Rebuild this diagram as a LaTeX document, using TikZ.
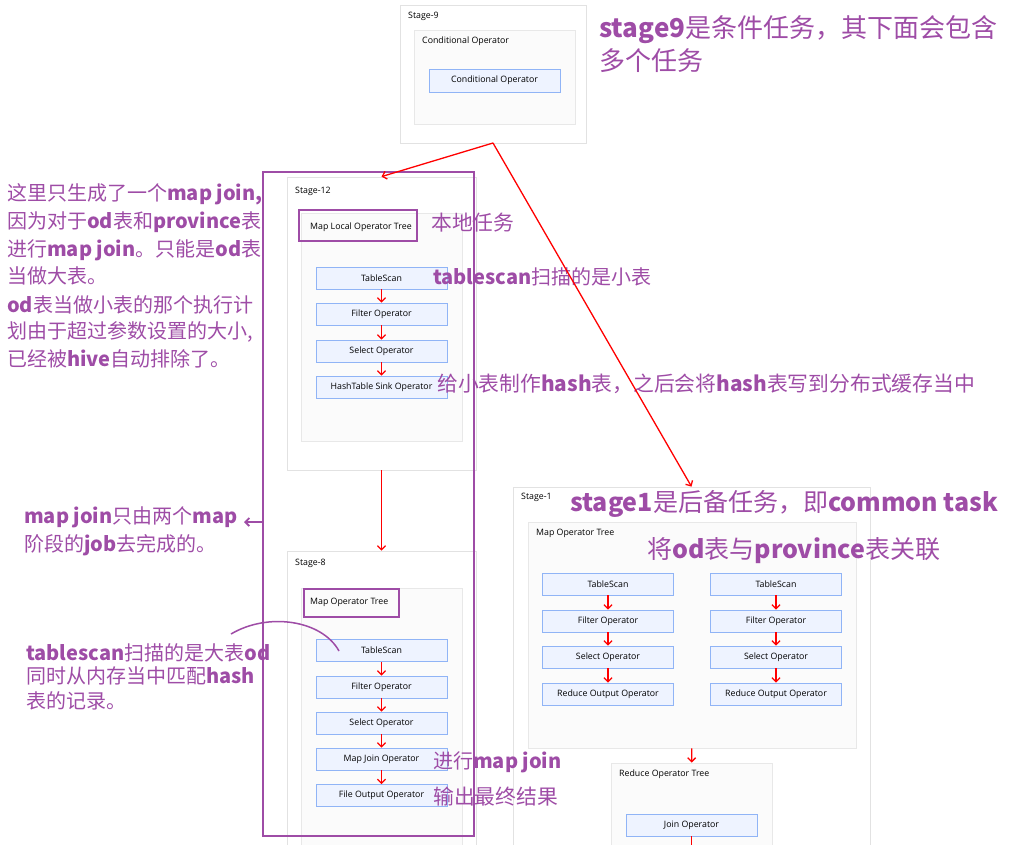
\documentclass[tikz,border=0pt]{standalone}
\usepackage{fontspec}
\setmainfont{Noto Sans CJK SC}
\newfontfamily\uifont{Open Sans}
\usetikzlibrary{arrows.meta}
\definecolor{pur}{RGB}{158,76,166}
\definecolor{stb}{RGB}{226,226,226}
\definecolor{inb}{RGB}{232,232,232}
\definecolor{inf}{RGB}{251,251,251}
\definecolor{opb}{RGB}{144,180,246}
\definecolor{opf}{RGB}{238,243,255}
\newcommand\en[1]{{\bfseries #1}}
\tikzset{
  stagebox/.style={draw=stb, fill=white, line width=0.8pt, inner sep=0},
  treebox/.style={draw=inb, fill=inf, line width=0.8pt, inner sep=0},
  op/.style={draw=opb, fill=opf, line width=0.8pt, minimum width=131, minimum height=22, inner sep=0, font=\uifont\fontsize{8.8}{10}\selectfont},
  lab/.style={font=\uifont\fontsize{8.8}{10}\selectfont, anchor=west, inner sep=0},
  ann/.style={font=\fontsize{20}{24}\selectfont, text=pur, inner sep=0, anchor=base west},
  annw/.style={font=\fontsize{20.8}{24}\selectfont, text=pur, inner sep=0, anchor=base west},
  bigann/.style={font=\fontsize{25}{28}\selectfont, text=pur, inner sep=0, anchor=base west},
  hugeann/.style={font=\fontsize{26}{30}\selectfont, text=pur, inner sep=0, anchor=base west},
  purbox/.style={draw=pur, line width=1.8pt, inner sep=0},
  rar/.style={draw=red, line width=1.3pt, -{Straight Barb[length=4pt,width=8pt]}},
}
\begin{document}
\begin{tikzpicture}[x=1pt,y=-1pt]
\useasboundingbox (0,0) rectangle (1019,844);
\clip (0,0) rectangle (1019,844);
% ---------- Stage-9
\node[stagebox, minimum width=186, minimum height=138] (s9) at (493,74) {};
\node[lab] (s9l) at (408,16) {Stage-9};
\node[treebox, minimum width=161, minimum height=94] (s9t) at (494.5,77) {};
\node[lab] (s9tl) at (422,41) {Conditional Operator};
\node[op, minimum height=23] (s9c) at (494.5,80.5) {Conditional Operator};
% ---------- Stage-12
\node[stagebox, minimum width=189, minimum height=293] (s12) at (381.5,323.5) {};
\node[lab] (s12l) at (295,191) {Stage-12};
\node[treebox, minimum width=161, minimum height=228] (s12t) at (381.5,327) {};
\node[lab] (s12tl) at (310,227) {Map Local Operator Tree};
\node[op] (a1) at (381.5,278) {TableScan};
\node[op] (a2) at (381.5,314) {Filter Operator};
\node[op] (a3) at (381.5,351) {Select Operator};
\node[op] (a4) at (381.5,387) {HashTable Sink Operator};
\draw[rar] (a1) -- (a2);
\draw[rar] (a2) -- (a3);
\draw[rar] (a3) -- (a4);
% ---------- Stage-8
\node[stagebox, minimum width=189, minimum height=349] (s8) at (381.5,725.5) {};
\node[lab] (s8l) at (295,563) {Stage-8};
\node[treebox, minimum width=161, minimum height=312] (s8t) at (381.5,744) {};
\node[lab] (s8tl) at (310,602) {Map Operator Tree};
\node[op] (b1) at (381.5,650.5) {TableScan};
\node[op] (b2) at (381.5,687) {Filter Operator};
\node[op] (b3) at (381.5,723) {Select Operator};
\node[op] (b4) at (381.5,759) {Map Join Operator};
\node[op] (b5) at (381.5,795.5) {File Output Operator};
\draw[rar] (b1) -- (b2);
\draw[rar] (b2) -- (b3);
\draw[rar] (b3) -- (b4);
\draw[rar] (b4) -- (b5);
\draw[rar] (s12) -- (s8);
% ---------- Stage-1
\node[stagebox, minimum width=357, minimum height=413] (s1) at (691.5,693.5) {};
\node[lab] (s1l) at (521,497) {Stage-1};
\node[treebox, minimum width=328, minimum height=226] (s1t) at (692,635) {};
\node[lab] (s1tl) at (536,533) {Map Operator Tree};
\node[op] (c1) at (608,584) {TableScan};
\node[op] (c2) at (608,621) {Filter Operator};
\node[op] (c3) at (608,657) {Select Operator};
\node[op] (c4) at (608,694) {Reduce Output Operator};
\node[op] (d1) at (776,584) {TableScan};
\node[op] (d2) at (776,621) {Filter Operator};
\node[op] (d3) at (776,657) {Select Operator};
\node[op] (d4) at (776,694) {Reduce Output Operator};
\draw[rar] (c1) -- (c2);
\draw[rar] (c2) -- (c3);
\draw[rar] (c3) -- (c4);
\draw[rar] (d1) -- (d2);
\draw[rar] (d2) -- (d3);
\draw[rar] (d3) -- (d4);
\node[treebox, minimum width=161, minimum height=137] (s1r) at (691.5,831.5) {};
\node[lab] (s1rl) at (619,774) {Reduce Operator Tree};
\node[op] (j1) at (691.5,825) {Join Operator};
\draw[rar] (s1t) -- (s1r);
\coordinate (jend) at (691.5,846);
\draw[red, line width=1.3pt] (j1) -- (jend);
% ---------- annotations
\node[hugeann] (t9a) at (599,37) {\en{stage9}是条件任务，其下面会包含};
\node[hugeann] (t9b) at (599,70) {多个任务};
\node[ann] (l1) at (7,200) {这里只生成了一个\en{map join,}};
\node[ann] (l2) at (7,228) {因为对于\en{od}表和\en{province}表};
\node[ann] (l3) at (7,256) {进行\en{map join}。只能是\en{od}表};
\node[ann] (l4) at (7,283) {当做大表。};
\node[ann] (l5) at (7,312) {\en{od}表当做小表的那个执行计};
\node[ann] (l6) at (7,338) {划由于超过参数设置的大小,};
\node[ann] (l7) at (7,366) {已经被\en{hive}自动排除了。};
\node[annw] (r1) at (431,230) {本地任务};
\node[ann] (r2) at (433,284) {\en{tablescan}扫描的是小表};
\node[annw] (r3) at (437,391) {给小表制作\en{hash}表，之后会将\en{hash}表写到分布式缓存当中};
\node[ann] (m1) at (24,523) {\en{map join}只由两个\en{map}};
\node[ann] (m2) at (24,551) {阶段的\en{job}去完成的。};
\node[ann] (n1) at (26,660) {\en{tablescan}扫描的是大表\en{od}};
\node[ann] (n2) at (26,683) {同时从内存当中匹配\en{hash}};
\node[ann] (n3) at (26,708) {表的记录。};
\node[ann] (p1) at (433,768) {进行\en{map join}};
\node[annw] (p2) at (433,804) {输出最终结果};
\node[bigann] (q1) at (570,511.5) {\en{stage1}是后备任务，即\en{common task}};
\node[bigann] (q2) at (647,558.5) {将\en{od}表与\en{province}表关联};
% ---------- purple marks
\node[purbox, minimum width=118, minimum height=31] (pb1) at (358,225.5) {};
\node[purbox, minimum width=95, minimum height=28] (pb2) at (351.5,603) {};
\node[purbox, minimum width=211, minimum height=664] (big) at (368.5,504) {};
\coordinate (pa) at (263,522);
\coordinate (pe) at (244,522);
\draw[pur, line width=1.8pt, -{Straight Barb[length=4pt,width=8pt]}] (pa) -- (pe);
\coordinate (ca) at (231,634);
\coordinate (cb) at (339,651);
\draw[pur, line width=1.5pt] (ca) .. controls (268,612) and (322,620) .. (cb);
% ---------- stage arrows
\coordinate (s9b) at (493,143);
\draw[rar] (s9b) -- (s12.north);
\draw[rar] (s9b) -- (s1.north);
\end{tikzpicture}
\end{document}
